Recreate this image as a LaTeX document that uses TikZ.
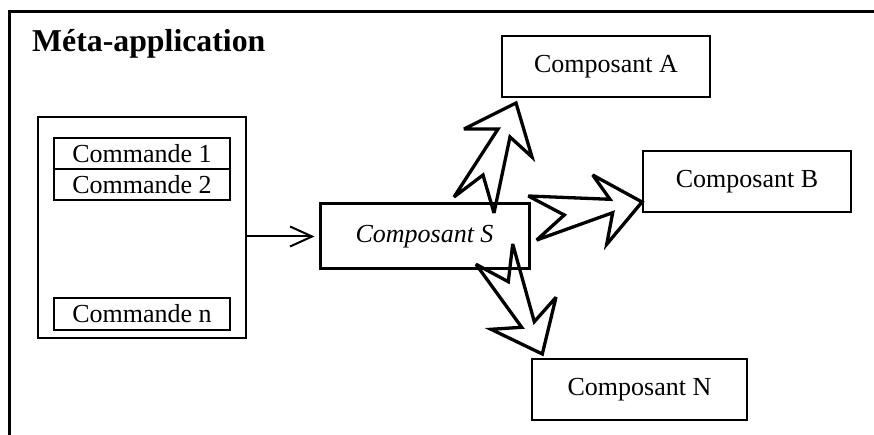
\documentclass[tikz,border=0pt]{standalone}
\usepackage{fontspec}
\setmainfont{Liberation Serif}
\usetikzlibrary{arrows.meta}
\begin{document}
\begin{tikzpicture}[x=1pt,y=-1pt,
  txt/.style={font=\fontsize{26}{30}\selectfont},
  thinbox/.style={draw, line width=1.5pt, inner sep=0pt, txt},
  cmdbox/.style={draw, line width=1.3pt, inner sep=0pt, minimum width=176pt, txt},
  bigbox/.style={draw, line width=3pt, inner sep=0pt, txt},
  frame/.style={line width=3pt},
  bolt/.style={draw, line width=3.3pt, line join=miter, miter limit=4},
  flow/.style={line width=2pt, -{Straight Barb[length=22pt,width=20pt,line width=2pt]}}
]
\useasboundingbox (0,0) rectangle (874,435);

% outer frame (open at right and bottom)
\draw[frame] (874,12) -- (9,12) -- (9,435);
\node[anchor=base west, inner sep=0pt, font=\fontsize{31.8}{36}\selectfont\bfseries] (title) at (32,52) {Méta-application};

% commands panel
\node[thinbox, minimum width=208pt, minimum height=221pt] (panel) at (142,227.5) {};
\node[cmdbox, minimum height=31pt] (cmd1) at (142,153.5) {Commande 1};
\node[cmdbox, minimum height=31pt] (cmd2) at (142,184.5) {Commande 2};
\node[cmdbox, minimum height=32pt] (cmdn) at (142,314) {Commande n};

% components
\node[bigbox, minimum width=209pt, minimum height=65pt] (S) at (424.5,236.5) {\itshape Composant S};
\node[thinbox, minimum width=208pt, minimum height=61pt] (A) at (606,66.5) {Composant A};
\node[thinbox, minimum width=208pt, minimum height=61pt] (B) at (747,181.5) {Composant B};
\node[thinbox, minimum width=215pt, minimum height=61pt] (N) at (639.5,389.5) {Composant N};

% plain arrow panel -> S
\draw[flow, shorten >=4pt] (panel.east |- S.west) -- (S.west);

% zigzag block arrows
\draw[bolt] (516,103) -- (532,157) -- (510,137) -- (494,213) -- (483,175)
  -- (454,197) -- (498,129) -- (464,129) -- cycle;
\draw[bolt] (642,202) -- (592.7,175) -- (610,199.3) -- (528.3,196) -- (564.3,215)
  -- (536.7,240) -- (612.7,212.7) -- (606.7,244.3) -- cycle;
\draw[bolt] (542.3,354) -- (491,329.3) -- (521.7,327.3) -- (476,264.3) -- (508.3,281.7)
  -- (512.7,244) -- (534.3,321.7) -- (556,297.3) -- cycle;
\end{tikzpicture}
\end{document}
